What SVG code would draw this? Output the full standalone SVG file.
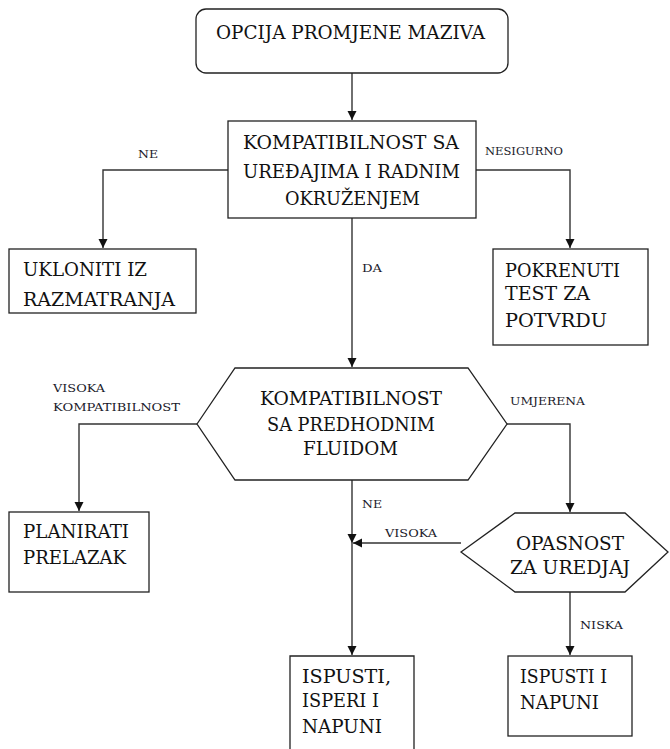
<svg xmlns="http://www.w3.org/2000/svg" width="670" height="749" viewBox="0 0 670 749">
<style>
.n{fill:#fff;stroke:#222;stroke-width:1.3}
.t{font-family:'DejaVu Serif',serif;font-size:19px;fill:#111}
.l{font-family:'DejaVu Serif',serif;font-size:11px;fill:#1a1a2a}
.c{fill:none;stroke:#333;stroke-width:1.4}
</style>
<defs>
<marker id="a" viewBox="0 0 10 10" refX="10" refY="5" markerWidth="9" markerHeight="10" markerUnits="userSpaceOnUse" orient="auto">
<path d="M0,0L10,5L0,10z" fill="#111"/>
</marker>
</defs>
<rect width="670" height="749" fill="#fff"/>
<g id="connectors">
<path class="c" d="M352,73V120" marker-end="url(#a)"/>
<path class="c" d="M228,170H103V248" marker-end="url(#a)"/>
<path class="c" d="M476,170H570V248" marker-end="url(#a)"/>
<path class="c" d="M352,218V367" marker-end="url(#a)"/>
<path class="c" d="M197,424H79V511" marker-end="url(#a)"/>
<path class="c" d="M507,424H570V512" marker-end="url(#a)"/>
<path class="c" d="M352,480V543" marker-end="url(#a)"/>
<path class="c" d="M352,543V655" marker-end="url(#a)"/>
<path class="c" d="M461,543H353" marker-end="url(#a)"/>
<path class="c" d="M570,592V655" marker-end="url(#a)"/>
<text class="l" x="138" y="158" textLength="20" lengthAdjust="spacingAndGlyphs">NE</text>
<text class="l" x="485" y="155" textLength="78" lengthAdjust="spacingAndGlyphs">NESIGURNO</text>
<text class="l" x="362" y="272" textLength="20" lengthAdjust="spacingAndGlyphs">DA</text>
<text class="l" x="53" y="392" textLength="52" lengthAdjust="spacingAndGlyphs">VISOKA</text>
<text class="l" x="53" y="411" textLength="127" lengthAdjust="spacingAndGlyphs">KOMPATIBILNOST</text>
<text class="l" x="510" y="405" textLength="75" lengthAdjust="spacingAndGlyphs">UMJERENA</text>
<text class="l" x="362" y="508" textLength="20" lengthAdjust="spacingAndGlyphs">NE</text>
<text class="l" x="385" y="537" textLength="52" lengthAdjust="spacingAndGlyphs">VISOKA</text>
<text class="l" x="580" y="629" textLength="43" lengthAdjust="spacingAndGlyphs">NISKA</text>
</g>
<g id="start">
<rect class="n" x="196" y="9" width="312" height="64" rx="10"/>
<text class="t" x="216" y="39" textLength="269" lengthAdjust="spacingAndGlyphs">OPCIJA PROMJENE MAZIVA</text>
</g>
<g id="compat1">
<rect class="n" x="228" y="121" width="248" height="97"/>
<text class="t" x="243" y="149" textLength="216" lengthAdjust="spacingAndGlyphs">KOMPATIBILNOST SA</text>
<text class="t" x="243" y="178" textLength="217" lengthAdjust="spacingAndGlyphs">UREĐAJIMA I RADNIM</text>
<text class="t" x="285" y="205" textLength="135" lengthAdjust="spacingAndGlyphs">OKRUŽENJEM</text>
</g>
<g id="ukloniti">
<rect class="n" x="9" y="249" width="187" height="64"/>
<text class="t" x="23" y="276" textLength="124" lengthAdjust="spacingAndGlyphs">UKLONITI IZ</text>
<text class="t" x="23" y="306" textLength="152" lengthAdjust="spacingAndGlyphs">RAZMATRANJA</text>
</g>
<g id="pokrenuti">
<rect class="n" x="493" y="249" width="155" height="96"/>
<text class="t" x="505" y="277" textLength="115" lengthAdjust="spacingAndGlyphs">POKRENUTI</text>
<text class="t" x="505" y="300" textLength="85" lengthAdjust="spacingAndGlyphs">TEST ZA</text>
<text class="t" x="505" y="327" textLength="102" lengthAdjust="spacingAndGlyphs">POTVRDU</text>
</g>
<g id="compat2">
<path class="n" d="M197,424L235,368H468L507,424L468,480H235Z"/>
<text class="t" x="260" y="405" textLength="182" lengthAdjust="spacingAndGlyphs">KOMPATIBILNOST</text>
<text class="t" x="267" y="431" textLength="168" lengthAdjust="spacingAndGlyphs">SA PREDHODNIM</text>
<text class="t" x="303" y="455" textLength="95" lengthAdjust="spacingAndGlyphs">FLUIDOM</text>
</g>
<g id="planirati">
<rect class="n" x="9" y="512" width="140" height="80"/>
<text class="t" x="23" y="538" textLength="106" lengthAdjust="spacingAndGlyphs">PLANIRATI</text>
<text class="t" x="23" y="564" textLength="103" lengthAdjust="spacingAndGlyphs">PRELAZAK</text>
</g>
<g id="opasnost">
<path class="n" d="M461,552L515,513H625L668,552L625,592H515Z"/>
<text class="t" x="516" y="550" textLength="108" lengthAdjust="spacingAndGlyphs">OPASNOST</text>
<text class="t" x="510" y="574" textLength="120" lengthAdjust="spacingAndGlyphs">ZA UREDJAJ</text>
</g>
<g id="ispusti1">
<path class="n" d="M290,752V656H414V752"/>
<text class="t" x="302" y="683" textLength="89" lengthAdjust="spacingAndGlyphs">ISPUSTI,</text>
<text class="t" x="302" y="707" textLength="77" lengthAdjust="spacingAndGlyphs">ISPERI I</text>
<text class="t" x="302" y="733" textLength="80" lengthAdjust="spacingAndGlyphs">NAPUNI</text>
</g>
<g id="ispusti2">
<rect class="n" x="508" y="656" width="124" height="80"/>
<text class="t" x="520" y="683" textLength="87" lengthAdjust="spacingAndGlyphs">ISPUSTI I</text>
<text class="t" x="520" y="709" textLength="79" lengthAdjust="spacingAndGlyphs">NAPUNI</text>
</g>
</svg>
